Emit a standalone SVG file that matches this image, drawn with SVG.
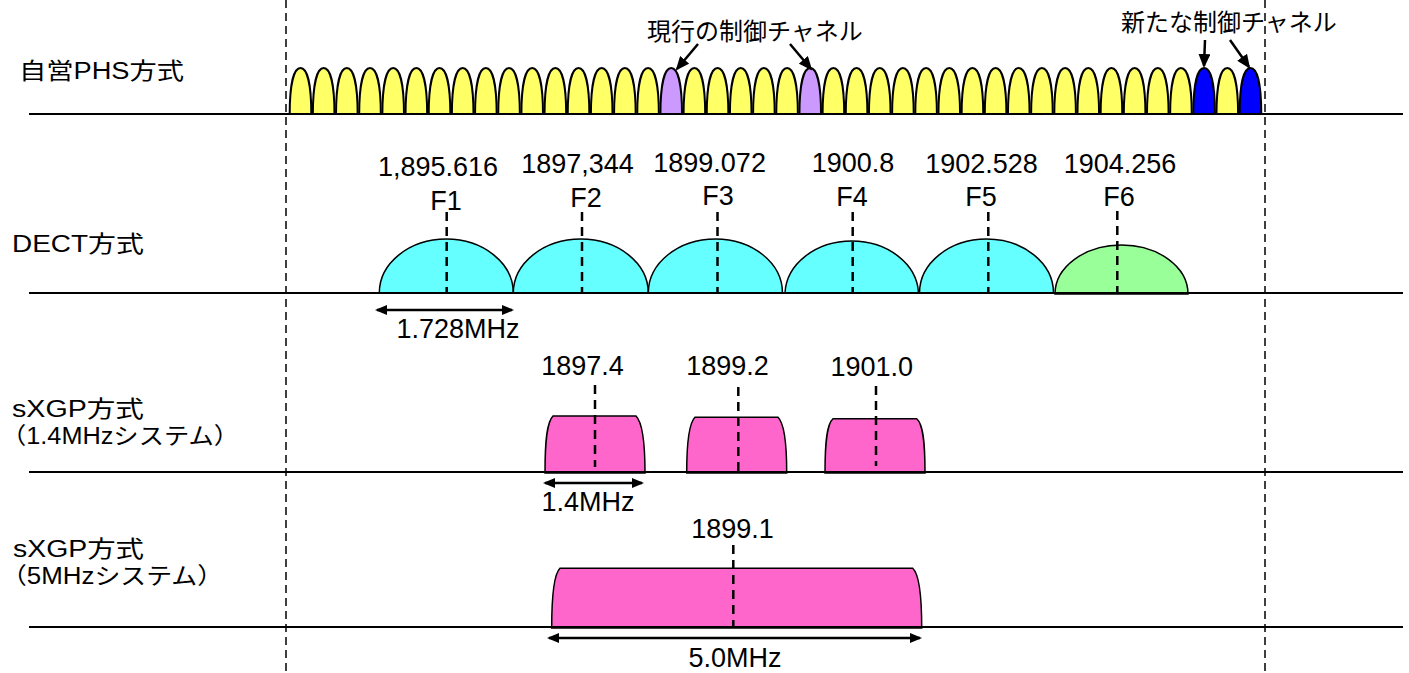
<svg xmlns="http://www.w3.org/2000/svg" xmlns:xlink="http://www.w3.org/1999/xlink" width="1409" height="673" viewBox="0 0 1409 673">
<style>
text{font-family:"Liberation Sans","Noto Sans CJK JP",sans-serif;fill:#000}
.lbl{font-size:23px}
.num{font-size:27px;text-anchor:middle}
.cjk{font-size:24px}
.base{stroke:#000;stroke-width:2;fill:none}
.bound{stroke:#000;stroke-width:1.5;stroke-dasharray:8 5;fill:none}
.ctr{stroke:#000;stroke-width:2.5;stroke-dasharray:9 6;fill:none}
.y{fill:#FFFF66}
.p{fill:#CC99FF}
.b{fill:#0000FF}
.bumps{stroke:#000;stroke-width:2}
.dect{fill:#66FFFF;stroke:#000;stroke-width:1.5}
.green{fill:#99FF99;stroke:#000;stroke-width:1.5}
.pink{fill:#FF66CC;stroke:#000;stroke-width:1.5}
.call{stroke:#000;stroke-width:2.5;fill:none;marker-end:url(#ah)}
.dim{stroke:#000;stroke-width:2.5;fill:none;marker-start:url(#dh);marker-end:url(#dh)}
</style>
<defs>
<path id="bump" d="M-10.8,0 C-10.8,-30 -6.5,-46 0,-46 C6.5,-46 10.8,-30 10.8,0 Z"/>
<marker id="ah" markerUnits="userSpaceOnUse" viewBox="0 0 14 12" markerWidth="14" markerHeight="12" refX="12" refY="6" orient="auto">
<path d="M0,0 L14,6 L0,12 Z" fill="#000"/>
</marker>
<marker id="dh" markerUnits="userSpaceOnUse" viewBox="0 0 12 10" markerWidth="12" markerHeight="10" refX="10" refY="5" orient="auto-start-reverse">
<path d="M0,0 L12,5 L0,10 Z" fill="#000"/>
</marker>
</defs>

<g id="row-labels">
<text class="lbl" x="19" y="79" textLength="165" lengthAdjust="spacingAndGlyphs">自営PHS方式</text>
<text class="lbl" x="12" y="252" textLength="132" lengthAdjust="spacingAndGlyphs">DECT方式</text>
<text class="lbl" x="12" y="417" textLength="132" lengthAdjust="spacingAndGlyphs">sXGP方式</text>
<text class="lbl" x="1" y="444" textLength="238" lengthAdjust="spacingAndGlyphs">（1.4MHzシステム）</text>
<text class="lbl" x="13" y="557" textLength="131" lengthAdjust="spacingAndGlyphs">sXGP方式</text>
<text class="lbl" x="1" y="584" textLength="222" lengthAdjust="spacingAndGlyphs">（5MHzシステム）</text>
</g>

<g id="phs-channels" class="bumps">
<use href="#bump" x="300.5" y="114" class="y"/>
<use href="#bump" x="323.67" y="114" class="y"/>
<use href="#bump" x="346.84" y="114" class="y"/>
<use href="#bump" x="370.01" y="114" class="y"/>
<use href="#bump" x="393.18" y="114" class="y"/>
<use href="#bump" x="416.35" y="114" class="y"/>
<use href="#bump" x="439.52" y="114" class="y"/>
<use href="#bump" x="462.69" y="114" class="y"/>
<use href="#bump" x="485.86" y="114" class="y"/>
<use href="#bump" x="509.03" y="114" class="y"/>
<use href="#bump" x="532.2" y="114" class="y"/>
<use href="#bump" x="555.37" y="114" class="y"/>
<use href="#bump" x="578.54" y="114" class="y"/>
<use href="#bump" x="601.71" y="114" class="y"/>
<use href="#bump" x="624.88" y="114" class="y"/>
<use href="#bump" x="648.05" y="114" class="y"/>
<use href="#bump" x="671.22" y="114" class="p"/>
<use href="#bump" x="694.39" y="114" class="y"/>
<use href="#bump" x="717.56" y="114" class="y"/>
<use href="#bump" x="740.73" y="114" class="y"/>
<use href="#bump" x="763.9" y="114" class="y"/>
<use href="#bump" x="787.07" y="114" class="y"/>
<use href="#bump" x="810.24" y="114" class="p"/>
<use href="#bump" x="833.41" y="114" class="y"/>
<use href="#bump" x="856.58" y="114" class="y"/>
<use href="#bump" x="879.75" y="114" class="y"/>
<use href="#bump" x="902.92" y="114" class="y"/>
<use href="#bump" x="926.09" y="114" class="y"/>
<use href="#bump" x="949.26" y="114" class="y"/>
<use href="#bump" x="972.43" y="114" class="y"/>
<use href="#bump" x="995.6" y="114" class="y"/>
<use href="#bump" x="1018.77" y="114" class="y"/>
<use href="#bump" x="1041.94" y="114" class="y"/>
<use href="#bump" x="1065.11" y="114" class="y"/>
<use href="#bump" x="1088.28" y="114" class="y"/>
<use href="#bump" x="1111.45" y="114" class="y"/>
<use href="#bump" x="1134.62" y="114" class="y"/>
<use href="#bump" x="1157.79" y="114" class="y"/>
<use href="#bump" x="1180.96" y="114" class="y"/>
<use href="#bump" x="1204.13" y="114" class="b"/>
<use href="#bump" x="1227.3" y="114" class="y"/>
<use href="#bump" x="1250.47" y="114" class="b"/>
</g>

<g id="phs-callouts">
<text class="cjk" x="647" y="40">現行の制御チャネル</text>
<text class="cjk" x="1121" y="31">新たな制御チャネル</text>
</g>

<g id="dect-channels">
<path class="dect" d="M379.3,293 A67,54 0 0 1 513.3,293 Z"/>
<path class="dect" d="M513.3,293 A67.5,54 0 0 1 648.3,293 Z"/>
<path class="dect" d="M648.3,293 A67,54 0 0 1 782.5,293 Z"/>
<path class="dect" d="M785,293 A66.8,54 0 0 1 918.5,293 Z"/>
<path class="dect" d="M919.5,293 A67,54 0 0 1 1053.5,293 Z"/>
<path class="green" d="M1055,294 A66.5,49 0 0 1 1188,294 Z"/>
<text class="num" x="438" y="176">1,895.616</text>
<text class="num" x="577.5" y="173">1897,344</text>
<text class="num" x="709.6" y="172">1899.072</text>
<text class="num" x="853" y="172">1900.8</text>
<text class="num" x="981.5" y="173">1902.528</text>
<text class="num" x="1120" y="173">1904.256</text>
<text class="num" x="446" y="210">F1</text>
<text class="num" x="586" y="207">F2</text>
<text class="num" x="718" y="205">F3</text>
<text class="num" x="852" y="206">F4</text>
<text class="num" x="981" y="206">F5</text>
<text class="num" x="1119" y="206">F6</text>
<text class="num" x="458" y="338">1.728MHz</text>
</g>

<g id="sxgp14-channels">
<path class="pink" d="M545,473 C545,440 547,422 553,416 L636,416 C642,422 645,440 645,473 Z"/>
<path class="pink" d="M686.7,473 C686.7,440 689,423 695,417.3 L778,417.3 C784,423 786.7,440 786.7,473 Z"/>
<path class="pink" d="M825,473 C825,441 827,424 833,418.7 L916.7,418.7 C923,424 925,441 925,473 Z"/>
<text class="num" x="582.5" y="375">1897.4</text>
<text class="num" x="727.5" y="375">1899.2</text>
<text class="num" x="871.7" y="376">1901.0</text>
<text class="num" x="588" y="511">1.4MHz</text>
</g>

<g id="sxgp5-channel">
<path class="pink" d="M551.7,628 C551.7,595 554,574 560,568.3 L912.7,568.3 C919,574 921.7,595 921.7,628 Z"/>
<text class="num" x="732.5" y="538">1899.1</text>
<text class="num" x="735" y="667">5.0MHz</text>
</g>

<g id="connectors">
<line class="base" x1="29" y1="114" x2="1403" y2="114"/>
<line class="base" x1="29" y1="293" x2="1403" y2="293"/>
<line class="base" x1="29" y1="472" x2="1403" y2="472"/>
<line class="base" x1="29" y1="627" x2="1403" y2="627"/>
<line class="bound" x1="286" y1="0" x2="286" y2="673"/>
<line class="bound" x1="1265" y1="0" x2="1265" y2="673"/>
<line class="ctr" x1="446.7" y1="212" x2="446.7" y2="293"/>
<line class="ctr" x1="582" y1="212" x2="582" y2="293"/>
<line class="ctr" x1="717.5" y1="212" x2="717.5" y2="293"/>
<line class="ctr" x1="852.7" y1="212" x2="852.7" y2="293"/>
<line class="ctr" x1="988.3" y1="212" x2="988.3" y2="293"/>
<line class="ctr" x1="1117.3" y1="211" x2="1117.3" y2="293"/>
<line class="ctr" x1="595" y1="385" x2="595" y2="467"/>
<line class="ctr" x1="738.3" y1="387" x2="738.3" y2="472"/>
<line class="ctr" x1="876" y1="386" x2="876" y2="466"/>
<line class="ctr" x1="733.3" y1="545" x2="733.3" y2="627"/>
<line class="call" x1="698" y1="44" x2="677" y2="69"/>
<line class="call" x1="790" y1="44" x2="811" y2="69"/>
<line class="call" x1="1205" y1="40" x2="1204" y2="66"/>
<line class="call" x1="1230" y1="40" x2="1249" y2="67"/>
<line class="dim" x1="377" y1="310" x2="512" y2="310"/>
<line class="dim" x1="545" y1="483" x2="642" y2="483"/>
<line class="dim" x1="549" y1="638" x2="920" y2="638"/>
</g>
</svg>
